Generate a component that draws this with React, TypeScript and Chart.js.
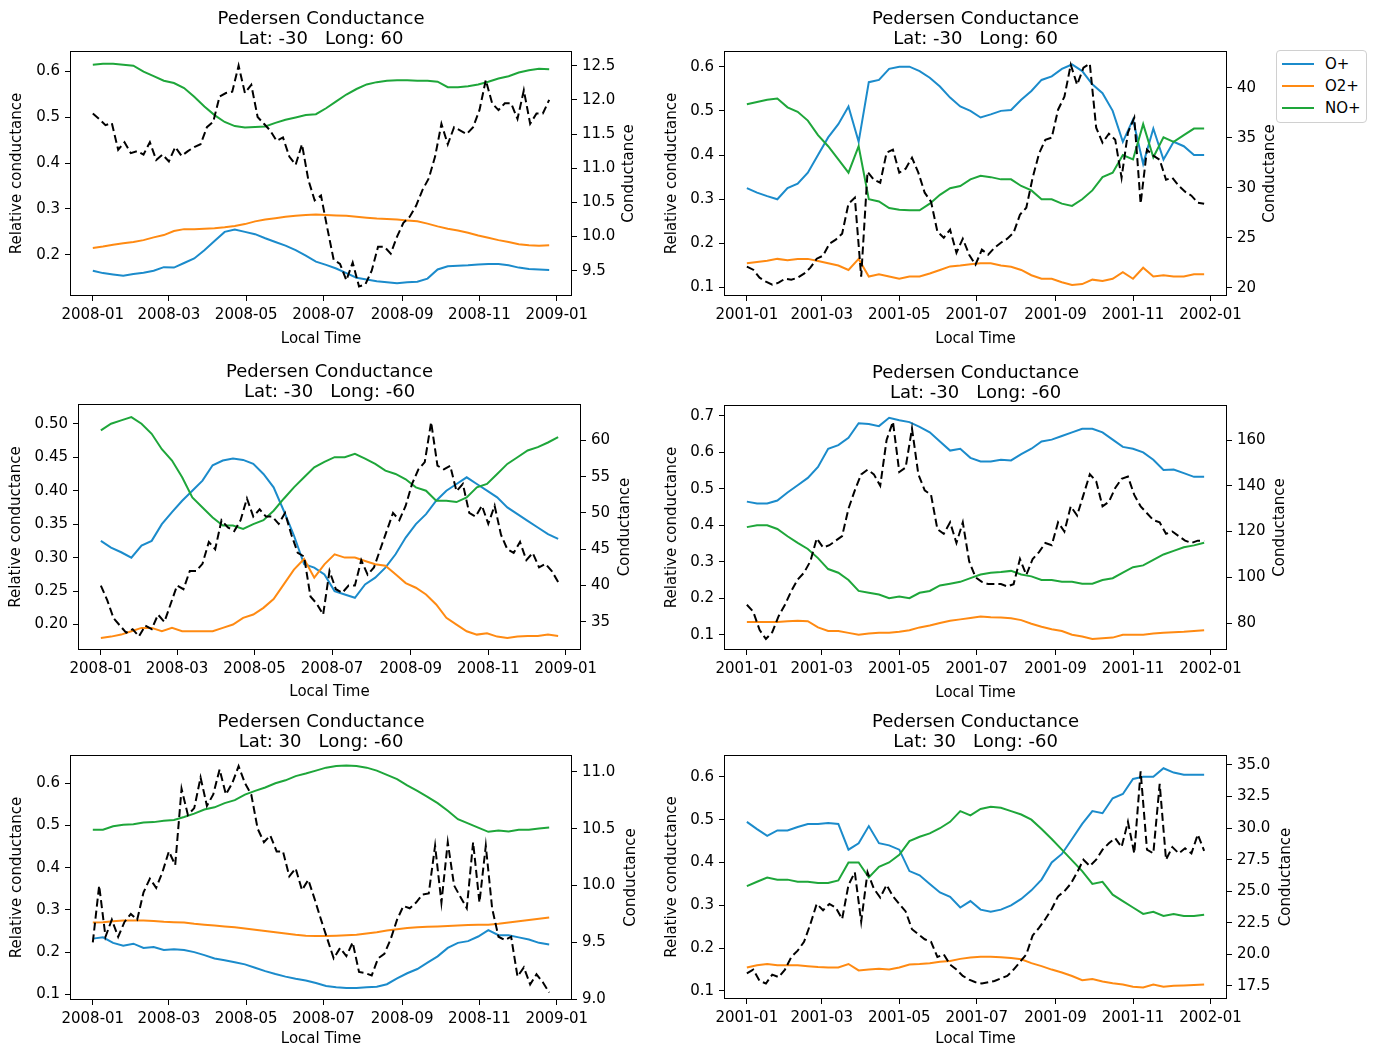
import React, { useEffect, useRef } from 'react';
import { Chart, registerables } from 'chart.js';

Chart.register(...registerables);

const FONT = "'DejaVu Sans', 'Liberation Sans', sans-serif";
const C_OP = '#1b8bcb';
const C_O2 = '#ff8a12';
const C_NO = '#1ea63a';

// Sample days (days since Jan 1 of the year shown)
const ionDays = [0, 8, 16, 24, 32, 40, 48, 56, 64, 72, 80, 88, 96, 104, 112, 120, 128, 136, 144, 152, 160, 168, 176, 184, 192, 200, 208, 216, 224, 232, 240, 248, 256, 264, 272, 280, 288, 296, 304, 312, 320, 328, 336, 344, 352, 360];
const condDays = [0, 5, 10, 15, 20, 25, 30, 35, 40, 45, 50, 55, 60, 65, 70, 75, 80, 85, 90, 95, 100, 105, 110, 115, 120, 125, 130, 135, 140, 145, 150, 155, 160, 165, 170, 175, 180, 185, 190, 195, 200, 205, 210, 215, 220, 225, 230, 235, 240, 245, 250, 255, 260, 265, 270, 275, 280, 285, 290, 295, 300, 305, 310, 315, 320, 325, 330, 335, 340, 345, 350, 355, 360];

// X tick positions / labels
const ticks2008 = [0, 60, 121, 182, 244, 305, 366];
const labels2008 = ['2008-01', '2008-03', '2008-05', '2008-07', '2008-09', '2008-11', '2009-01'];
const ticks2001 = [0, 59, 120, 181, 243, 304, 365];
const labels2001 = ['2001-01', '2001-03', '2001-05', '2001-07', '2001-09', '2001-11', '2002-01'];

// ---------- Panel 1: 2008, Lat -30, Long 60 ----------
const tlOPlus = [0.165, 0.160, 0.157, 0.154, 0.158, 0.161, 0.165, 0.173, 0.172, 0.182, 0.192, 0.21, 0.23, 0.25, 0.255, 0.25, 0.245, 0.236, 0.228, 0.22, 0.21, 0.198, 0.185, 0.178, 0.17, 0.16, 0.15, 0.146, 0.142, 0.14, 0.138, 0.14, 0.141, 0.148, 0.168, 0.175, 0.176, 0.177, 0.179, 0.18, 0.18, 0.177, 0.172, 0.169, 0.168, 0.167];
const tlO2Plus = [0.215, 0.218, 0.222, 0.225, 0.228, 0.232, 0.238, 0.243, 0.252, 0.256, 0.256, 0.257, 0.258, 0.26, 0.263, 0.267, 0.273, 0.277, 0.28, 0.283, 0.285, 0.287, 0.288, 0.287, 0.286, 0.285, 0.283, 0.281, 0.279, 0.278, 0.277, 0.275, 0.273, 0.268, 0.262, 0.257, 0.253, 0.248, 0.242, 0.237, 0.232, 0.228, 0.223, 0.221, 0.22, 0.221];
const tlNOPlus = [0.615, 0.617, 0.617, 0.615, 0.613, 0.60, 0.59, 0.58, 0.575, 0.564, 0.545, 0.524, 0.505, 0.49, 0.481, 0.478, 0.479, 0.48, 0.488, 0.495, 0.50, 0.505, 0.507, 0.52, 0.535, 0.55, 0.562, 0.572, 0.577, 0.58, 0.581, 0.581, 0.58, 0.58, 0.578, 0.566, 0.566, 0.568, 0.572, 0.578, 0.585, 0.59, 0.598, 0.603, 0.606, 0.605];
const tlSigma = [11.80, 11.72, 11.63, 11.66, 11.27, 11.38, 11.22, 11.25, 11.20, 11.38, 11.12, 11.20, 11.10, 11.31, 11.18, 11.25, 11.31, 11.35, 11.60, 11.68, 12.05, 12.10, 12.12, 12.50, 12.10, 12.22, 11.75, 11.65, 11.55, 11.40, 11.45, 11.17, 11.05, 11.35, 10.83, 10.53, 10.60, 10.12, 9.66, 9.60, 9.36, 9.62, 9.27, 9.30, 9.50, 9.85, 9.85, 9.75, 10.0, 10.2, 10.29, 10.45, 10.68, 10.85, 11.17, 11.65, 11.35, 11.60, 11.55, 11.50, 11.60, 11.85, 12.29, 11.95, 11.85, 11.95, 11.95, 11.72, 12.14, 11.65, 11.80, 11.80, 12.0];

// ---------- Panel 2: 2001, Lat -30, Long 60 ----------
const trOPlus = [0.325, 0.315, 0.307, 0.30, 0.325, 0.335, 0.36, 0.40, 0.44, 0.47, 0.51, 0.43, 0.565, 0.57, 0.595, 0.60, 0.60, 0.59, 0.575, 0.555, 0.53, 0.51, 0.50, 0.485, 0.492, 0.50, 0.502, 0.525, 0.545, 0.57, 0.578, 0.595, 0.605, 0.59, 0.56, 0.54, 0.50, 0.43, 0.48, 0.38, 0.46, 0.39, 0.43, 0.42, 0.40, 0.40];
const trO2Plus = [0.155, 0.158, 0.161, 0.165, 0.162, 0.165, 0.165, 0.16, 0.155, 0.15, 0.14, 0.165, 0.125, 0.13, 0.125, 0.12, 0.125, 0.125, 0.132, 0.14, 0.148, 0.15, 0.153, 0.155, 0.155, 0.15, 0.147, 0.14, 0.128, 0.12, 0.12, 0.112, 0.106, 0.108, 0.118, 0.115, 0.12, 0.135, 0.12, 0.145, 0.125, 0.128, 0.125, 0.125, 0.13, 0.13];
const trNOPlus = [0.515, 0.52, 0.525, 0.528, 0.508, 0.498, 0.478, 0.445, 0.42, 0.39, 0.36, 0.42, 0.30, 0.295, 0.28, 0.276, 0.275, 0.275, 0.29, 0.31, 0.325, 0.33, 0.345, 0.353, 0.35, 0.345, 0.345, 0.33, 0.32, 0.30, 0.30, 0.29, 0.285, 0.30, 0.32, 0.35, 0.36, 0.40, 0.39, 0.47, 0.395, 0.44, 0.43, 0.445, 0.46, 0.46];
const trSigma = [22.1, 21.8, 21.0, 20.6, 20.3, 20.5, 20.9, 20.8, 21.0, 21.4, 22.0, 22.9, 23.2, 24.4, 24.8, 25.4, 28.4, 29.0, 21.1, 31.6, 30.8, 30.5, 33.5, 33.8, 31.5, 31.9, 33.0, 31.5, 29.5, 28.6, 25.6, 25.0, 25.8, 23.5, 24.9, 23.3, 22.3, 23.8, 23.3, 24.0, 24.5, 24.9, 25.5, 27.3, 28.0, 31.0, 33.4, 34.8, 35.0, 37.8, 39.1, 42.3, 40.3, 42.0, 42.4, 36.0, 34.5, 35.4, 34.8, 31.0, 35.5, 37.0, 28.4, 33.8, 33.2, 32.8, 30.8, 31.0, 30.2, 29.6, 29.2, 28.5, 28.4];

// ---------- Panel 3: 2008, Lat -30, Long -60 ----------
const mlOPlus = [0.325, 0.315, 0.308, 0.30, 0.318, 0.325, 0.35, 0.368, 0.385, 0.40, 0.415, 0.438, 0.445, 0.448, 0.446, 0.44, 0.425, 0.405, 0.37, 0.333, 0.29, 0.285, 0.275, 0.25, 0.245, 0.24, 0.26, 0.27, 0.285, 0.305, 0.33, 0.35, 0.365, 0.385, 0.40, 0.41, 0.42, 0.41, 0.40, 0.39, 0.375, 0.365, 0.355, 0.345, 0.335, 0.328];
const mlO2Plus = [0.18, 0.182, 0.185, 0.19, 0.195, 0.195, 0.19, 0.195, 0.19, 0.19, 0.19, 0.19, 0.195, 0.20, 0.21, 0.215, 0.225, 0.238, 0.26, 0.282, 0.298, 0.27, 0.29, 0.305, 0.30, 0.30, 0.295, 0.29, 0.288, 0.275, 0.262, 0.255, 0.245, 0.23, 0.21, 0.20, 0.19, 0.185, 0.187, 0.182, 0.18, 0.182, 0.183, 0.183, 0.185, 0.183];
const mlNOPlus = [0.49, 0.50, 0.505, 0.51, 0.50, 0.485, 0.462, 0.445, 0.42, 0.39, 0.375, 0.36, 0.348, 0.348, 0.343, 0.35, 0.356, 0.37, 0.388, 0.405, 0.42, 0.435, 0.443, 0.45, 0.45, 0.455, 0.448, 0.44, 0.43, 0.425, 0.417, 0.405, 0.40, 0.385, 0.385, 0.383, 0.39, 0.405, 0.41, 0.425, 0.44, 0.45, 0.46, 0.465, 0.472, 0.48];
const mlSigma = [40, 38, 35.5, 34.5, 33.5, 34, 33, 34.5, 34, 36, 35, 37.5, 40, 39.5, 42, 42, 43, 46, 45, 49, 48, 47.5, 49, 52, 49.5, 50.5, 49.5, 49.5, 48.5, 50, 47, 44.5, 44, 38.5, 37.5, 36, 42, 39.5, 39, 40, 40, 43.5, 41.5, 42.5, 45, 47.5, 50, 49, 51, 54, 56, 57, 62.5, 56.5, 56, 56.5, 53, 54, 50, 49.5, 51, 48.5, 51, 47, 45, 44.5, 46, 43.5, 44.5, 42.5, 43, 42, 40.5];

// ---------- Panel 4: 2001, Lat -30, Long -60 ----------
const mrOPlus = [0.465, 0.46, 0.46, 0.468, 0.49, 0.51, 0.53, 0.56, 0.61, 0.62, 0.64, 0.68, 0.678, 0.672, 0.695, 0.688, 0.683, 0.67, 0.655, 0.63, 0.605, 0.61, 0.585, 0.575, 0.575, 0.58, 0.578, 0.595, 0.61, 0.63, 0.635, 0.645, 0.655, 0.665, 0.665, 0.655, 0.635, 0.615, 0.61, 0.60, 0.58, 0.552, 0.553, 0.543, 0.533, 0.533];
const mrO2Plus = [0.135, 0.135, 0.135, 0.135, 0.137, 0.138, 0.137, 0.12, 0.11, 0.11, 0.105, 0.10, 0.103, 0.105, 0.105, 0.108, 0.112, 0.12, 0.125, 0.132, 0.138, 0.142, 0.146, 0.15, 0.148, 0.147, 0.145, 0.14, 0.13, 0.122, 0.115, 0.11, 0.10, 0.095, 0.088, 0.09, 0.092, 0.10, 0.10, 0.10, 0.103, 0.105, 0.107, 0.108, 0.11, 0.112];
const mrNOPlus = [0.395, 0.40, 0.40, 0.39, 0.37, 0.352, 0.335, 0.31, 0.28, 0.27, 0.25, 0.22, 0.215, 0.21, 0.20, 0.205, 0.20, 0.215, 0.22, 0.235, 0.24, 0.245, 0.255, 0.265, 0.27, 0.272, 0.275, 0.265, 0.26, 0.25, 0.25, 0.245, 0.245, 0.24, 0.24, 0.25, 0.255, 0.27, 0.285, 0.29, 0.305, 0.32, 0.33, 0.34, 0.345, 0.352];
const mrSigma = [88, 85, 77, 73, 76, 83, 88, 94, 99, 102, 107, 117, 113, 114, 116, 118, 130, 138, 145, 147, 145, 140, 160, 168, 146, 148, 165, 145, 138, 136, 121, 119, 124, 115, 124, 107, 100, 98, 97, 97, 97, 96, 97, 108, 101, 108, 111, 115, 114, 124, 120, 131, 127, 136, 145, 142, 131, 133, 139, 143, 144, 136, 131, 128, 125, 124, 119, 120, 118, 116, 115, 116, 116];

// ---------- Panel 5: 2008, Lat 30, Long -60 ----------
const blOPlus = [0.232, 0.235, 0.222, 0.215, 0.22, 0.21, 0.212, 0.205, 0.207, 0.205, 0.20, 0.193, 0.185, 0.181, 0.176, 0.171, 0.163, 0.155, 0.148, 0.142, 0.137, 0.133, 0.127, 0.12, 0.117, 0.115, 0.115, 0.117, 0.118, 0.124, 0.138, 0.15, 0.16, 0.175, 0.19, 0.21, 0.222, 0.226, 0.237, 0.252, 0.24, 0.24, 0.235, 0.23, 0.222, 0.218];
const blO2Plus = [0.27, 0.271, 0.273, 0.275, 0.275, 0.275, 0.274, 0.272, 0.271, 0.27, 0.267, 0.265, 0.263, 0.261, 0.259, 0.256, 0.253, 0.25, 0.247, 0.244, 0.241, 0.239, 0.238, 0.238, 0.239, 0.24, 0.241, 0.244, 0.247, 0.251, 0.254, 0.257, 0.259, 0.26, 0.261, 0.262, 0.263, 0.264, 0.265, 0.265, 0.267, 0.27, 0.273, 0.276, 0.279, 0.282];
const blNOPlus = [0.49, 0.49, 0.498, 0.502, 0.503, 0.507, 0.508, 0.511, 0.513, 0.52, 0.528, 0.538, 0.543, 0.553, 0.56, 0.573, 0.582, 0.59, 0.60, 0.607, 0.617, 0.623, 0.63, 0.637, 0.641, 0.642, 0.641, 0.637, 0.63, 0.62, 0.61, 0.595, 0.582, 0.568, 0.553, 0.535, 0.515, 0.505, 0.495, 0.485, 0.488, 0.486, 0.49, 0.49, 0.493, 0.495];
const blSigma = [9.50, 10.0, 9.55, 9.70, 9.55, 9.68, 9.75, 9.70, 9.94, 10.06, 9.98, 10.12, 10.30, 10.18, 10.85, 10.62, 10.68, 10.95, 10.70, 10.80, 11.02, 10.80, 10.90, 11.05, 10.90, 10.80, 10.50, 10.38, 10.44, 10.30, 10.30, 10.08, 10.15, 9.96, 10.05, 9.88, 9.70, 9.53, 9.36, 9.45, 9.38, 9.50, 9.24, 9.23, 9.21, 9.36, 9.40, 9.53, 9.70, 9.82, 9.80, 9.85, 9.92, 9.93, 10.35, 9.85, 10.38, 10.0, 9.90, 9.80, 10.38, 9.85, 10.35, 9.80, 9.55, 9.52, 9.55, 9.20, 9.28, 9.13, 9.22, 9.15, 9.06];

// ---------- Panel 6: 2001, Lat 30, Long -60 ----------
const brOPlus = [0.495, 0.478, 0.462, 0.475, 0.475, 0.483, 0.49, 0.49, 0.492, 0.49, 0.43, 0.445, 0.485, 0.445, 0.44, 0.43, 0.38, 0.37, 0.35, 0.33, 0.32, 0.295, 0.31, 0.29, 0.285, 0.29, 0.30, 0.315, 0.335, 0.36, 0.40, 0.42, 0.455, 0.49, 0.52, 0.515, 0.55, 0.56, 0.595, 0.60, 0.60, 0.62, 0.61, 0.605, 0.605, 0.605];
const brO2Plus = [0.155, 0.16, 0.163, 0.16, 0.16, 0.16, 0.158, 0.156, 0.155, 0.155, 0.163, 0.148, 0.15, 0.152, 0.15, 0.155, 0.162, 0.163, 0.165, 0.168, 0.17, 0.175, 0.178, 0.18, 0.18, 0.179, 0.177, 0.174, 0.165, 0.158, 0.15, 0.143, 0.135, 0.125, 0.128, 0.122, 0.118, 0.115, 0.11, 0.108, 0.115, 0.11, 0.112, 0.113, 0.114, 0.115];
const brNOPlus = [0.345, 0.355, 0.365, 0.36, 0.36, 0.355, 0.355, 0.352, 0.352, 0.358, 0.40, 0.40, 0.365, 0.39, 0.40, 0.418, 0.45, 0.46, 0.468, 0.48, 0.495, 0.52, 0.51, 0.525, 0.53, 0.528, 0.52, 0.512, 0.50, 0.478, 0.455, 0.43, 0.405, 0.38, 0.35, 0.355, 0.325, 0.31, 0.295, 0.28, 0.285, 0.275, 0.28, 0.275, 0.275, 0.278];
const brSigma = [18.5, 18.8, 17.9, 17.7, 18.4, 18.2, 18.8, 19.8, 20.3, 21.0, 22.4, 24.0, 23.5, 24.0, 23.7, 22.8, 25.5, 26.5, 22.6, 26.5, 25.2, 24.5, 25.5, 24.6, 24.0, 23.4, 22.0, 21.6, 21.2, 21.0, 19.8, 20.0, 19.2, 18.8, 18.3, 18.0, 17.8, 17.7, 17.8, 17.9, 18.1, 18.3, 18.8, 19.4, 20.0, 21.5, 22.1, 22.8, 23.6, 24.6, 25.0, 25.6, 26.5, 27.5, 27.0, 27.5, 28.3, 28.8, 29.2, 28.5, 30.5, 28.0, 34.5, 28.3, 28.0, 33.5, 27.5, 28.5, 28.0, 28.4, 28.0, 29.5, 28.2];

// Axis ticks
const relTicks1 = [0.2, 0.3, 0.4, 0.5, 0.6];
const relTicks2 = [0.1, 0.2, 0.3, 0.4, 0.5, 0.6];
const relTicks3 = [0.2, 0.25, 0.3, 0.35, 0.4, 0.45, 0.5];
const relTicks4 = [0.1, 0.2, 0.3, 0.4, 0.5, 0.6, 0.7];
const condTicks1 = [9.5, 10.0, 10.5, 11.0, 11.5, 12.0, 12.5];
const condTicks2 = [20, 25, 30, 35, 40];
const condTicks3 = [35, 40, 45, 50, 55, 60];
const condTicks4 = [80, 100, 120, 140, 160];
const condTicks5 = [9.0, 9.5, 10.0, 10.5, 11.0];
const condTicks6 = [17.5, 20.0, 22.5, 25.0, 27.5, 30.0, 32.5, 35.0];

const legendLabels = ['O+', 'O2+', 'NO+'];
const legendColors = [C_OP, C_O2, C_NO];

const panels = [
  {
    key: 'tl', x: 0, y: 0, w: 660, h: 350, tTop: 9, tBot: 2, yW: 70, y2W: 88, xH: 54,
    yTitlePad: 8, y2TitlePad: 22, xTitlePad: 2, sub: 'Lat: -30   Long: 60',
    xTicks: ticks2008, xLabels: labels2008,
    yMin: 0.11, yMax: 0.645, yTicks: relTicks1, yDec: 1,
    y2Min: 9.13, y2Max: 12.715, y2Ticks: condTicks1, y2Dec: 1,
    op: tlOPlus, o2: tlO2Plus, no: tlNOPlus, cond: tlSigma,
  },
  {
    key: 'tr', x: 660, y: 0, w: 640, h: 350, tTop: 9, tBot: 2, yW: 64, y2W: 73, xH: 54,
    yTitlePad: 3, y2TitlePad: 21, xTitlePad: 2, sub: 'Lat: -30   Long: 60',
    xTicks: ticks2001, xLabels: labels2001,
    yMin: 0.081, yMax: 0.6355, yTicks: relTicks2, yDec: 1,
    y2Min: 19.17, y2Max: 43.67, y2Ticks: condTicks2, y2Dec: 0,
    op: trOPlus, o2: trO2Plus, no: trNOPlus, cond: trSigma,
  },
  {
    key: 'ml', x: 0, y: 350, w: 660, h: 355, tTop: 12, tBot: 2, yW: 78, y2W: 79, xH: 55,
    yTitlePad: 7, y2TitlePad: 26, xTitlePad: 4, sub: 'Lat: -30   Long: -60',
    xTicks: ticks2008, xLabels: labels2008,
    yMin: 0.162, yMax: 0.5295, yTicks: relTicks3, yDec: 2,
    y2Min: 31.13, y2Max: 65.0, y2Ticks: condTicks3, y2Dec: 0,
    op: mlOPlus, o2: mlO2Plus, no: mlNOPlus, cond: mlSigma,
  },
  {
    key: 'mr', x: 660, y: 350, w: 640, h: 355, tTop: 13, tBot: 2, yW: 64, y2W: 73, xH: 55,
    yTitlePad: 3, y2TitlePad: 11, xTitlePad: 3, sub: 'Lat: -30   Long: -60',
    xTicks: ticks2001, xLabels: labels2001,
    yMin: 0.058, yMax: 0.73, yTicks: relTicks4, yDec: 1,
    y2Min: 68.2, y2Max: 175.3, y2Ticks: condTicks4, y2Dec: 0,
    op: mrOPlus, o2: mrO2Plus, no: mrNOPlus, cond: mrSigma,
  },
  {
    key: 'bl', x: 0, y: 705, w: 660, h: 343, tTop: 7, tBot: 3, yW: 70, y2W: 88, xH: 48,
    yTitlePad: 8, y2TitlePad: 20, xTitlePad: 0, sub: 'Lat: 30   Long: -60',
    xTicks: ticks2008, xLabels: labels2008,
    yMin: 0.0866, yMax: 0.667, yTicks: relTicks2, yDec: 1,
    y2Min: 8.994, y2Max: 11.147, y2Ticks: condTicks5, y2Dec: 1,
    op: blOPlus, o2: blO2Plus, no: blNOPlus, cond: blSigma,
  },
  {
    key: 'br', x: 660, y: 705, w: 640, h: 343, tTop: 7, tBot: 3, yW: 64, y2W: 73, xH: 49,
    yTitlePad: 3, y2TitlePad: 5, xTitlePad: 0, sub: 'Lat: 30   Long: -60',
    xTicks: ticks2001, xLabels: labels2001,
    yMin: 0.0813, yMax: 0.651, yTicks: relTicks2, yDec: 1,
    y2Min: 16.47, y2Max: 35.79, y2Ticks: condTicks6, y2Dec: 1,
    op: brOPlus, o2: brO2Plus, no: brNOPlus, cond: brSigma,
  },
];

const tickFont = { family: FONT, size: 15, lineHeight: 1.2 };
const gridOpts = { display: true, drawOnChartArea: false, drawTicks: true, tickLength: 5, color: '#000', lineWidth: 1 };

function makeFramePlugin(p: any) {
  return {
    id: 'axesFrame',
    afterDraw(chart: any) {
      const { ctx, chartArea } = chart;
      ctx.save();
      ctx.strokeStyle = '#000';
      ctx.lineWidth = 1;
      ctx.strokeRect(
        Math.round(chartArea.left) + 0.5,
        Math.round(chartArea.top) + 0.5,
        Math.round(chartArea.right - chartArea.left) - 1,
        Math.round(chartArea.bottom - chartArea.top) - 1
      );
      // right-axis label, rotated like the left one (reads bottom to top)
      const cx = chartArea.right + p.y2W - p.y2TitlePad - 9;
      const cy = (chartArea.top + chartArea.bottom) / 2;
      ctx.translate(cx, cy);
      ctx.rotate(-Math.PI / 2);
      ctx.fillStyle = '#000';
      ctx.font = `15px ${FONT}`;
      ctx.textAlign = 'center';
      ctx.textBaseline = 'middle';
      ctx.fillText('Conductance', 0, 0);
      ctx.restore();
    },
  };
}

function toPoints(days: number[], vals: number[]) {
  return vals.map((v, i) => ({ x: days[i], y: v }));
}

function PanelChart({ p }: { p: any }) {
  const ref = useRef<HTMLCanvasElement | null>(null);
  useEffect(() => {
    if (!ref.current) return;
    const lineBase = { pointRadius: 0, pointHoverRadius: 0, borderWidth: 2, tension: 0, fill: false };
    const chart = new Chart(ref.current, {
      type: 'line',
      data: {
        datasets: [
          { ...lineBase, label: 'Conductance', data: toPoints(condDays, p.cond), yAxisID: 'y2', borderColor: '#000', borderDash: [8, 4] },
          { ...lineBase, label: 'NO+', data: toPoints(ionDays, p.no), yAxisID: 'y', borderColor: C_NO },
          { ...lineBase, label: 'O2+', data: toPoints(ionDays, p.o2), yAxisID: 'y', borderColor: C_O2 },
          { ...lineBase, label: 'O+', data: toPoints(ionDays, p.op), yAxisID: 'y', borderColor: C_OP },
        ],
      },
      options: {
        animation: false,
        responsive: false,
        devicePixelRatio: 1,
        parsing: false,
        normalized: true,
        events: [],
        layout: { padding: 0 },
        plugins: {
          legend: { display: false },
          tooltip: { enabled: false },
          title: {
            display: true,
            text: ['Pedersen Conductance', p.sub],
            color: '#000',
            fullSize: false,
            font: { family: FONT, size: 18, weight: 'normal', lineHeight: 20 / 18 },
            padding: { top: p.tTop, bottom: p.tBot },
          },
        },
        scales: {
          x: {
            type: 'linear',
            position: 'bottom',
            min: -18,
            max: 378,
            afterBuildTicks: (s: any) => { s.ticks = p.xTicks.map((v: number) => ({ value: v })); },
            afterFit: (s: any) => { s.height = p.xH; },
            ticks: {
              autoSkip: false, maxRotation: 0, minRotation: 0, padding: 5, color: '#000', font: tickFont,
              callback: (_v: any, i: number) => p.xLabels[i],
            },
            grid: gridOpts,
            border: { display: false },
            title: { display: true, text: 'Local Time', color: '#000', font: tickFont, padding: { top: 0, bottom: p.xTitlePad } },
          },
          y: {
            type: 'linear',
            position: 'left',
            min: p.yMin,
            max: p.yMax,
            afterBuildTicks: (s: any) => { s.ticks = p.yTicks.map((v: number) => ({ value: v })); },
            afterFit: (s: any) => { s.width = p.yW; },
            ticks: {
              autoSkip: false, padding: 5, color: '#000', font: tickFont,
              callback: (v: any) => Number(v).toFixed(p.yDec),
            },
            grid: gridOpts,
            border: { display: false },
            title: { display: true, text: 'Relative conductance', color: '#000', font: tickFont, padding: { top: p.yTitlePad, bottom: 0 } },
          },
          y2: {
            type: 'linear',
            position: 'right',
            min: p.y2Min,
            max: p.y2Max,
            afterBuildTicks: (s: any) => { s.ticks = p.y2Ticks.map((v: number) => ({ value: v })); },
            afterFit: (s: any) => { s.width = p.y2W; },
            ticks: {
              autoSkip: false, padding: 5, color: '#000', font: tickFont,
              callback: (v: any) => Number(v).toFixed(p.y2Dec),
            },
            grid: gridOpts,
            border: { display: false },
            title: { display: false, text: 'Conductance' },
          },
        },
      } as any,
      plugins: [makeFramePlugin(p)],
    } as any);
    return () => chart.destroy();
  }, [p]);
  return (
    <canvas
      ref={ref}
      width={p.w}
      height={p.h}
      style={{ position: 'absolute', left: p.x, top: p.y, width: p.w, height: p.h, display: 'block' }}
    />
  );
}

function Legend() {
  return (
    <div
      style={{
        position: 'absolute', left: 1276, top: 50, width: 91, height: 73, boxSizing: 'border-box',
        border: '1px solid #d0d0d0', borderRadius: 4, background: '#fff', fontFamily: FONT, fontSize: 15, color: '#000',
      }}
    >
      {legendLabels.map((lab, i) => (
        <React.Fragment key={lab}>
          <div style={{ position: 'absolute', left: 5, top: 13 + 22 * i - 1, width: 32, height: 2, background: legendColors[i] }} />
          <div style={{ position: 'absolute', left: 48, top: 13 + 22 * i - 9, lineHeight: '18px', whiteSpace: 'nowrap' }}>{lab}</div>
        </React.Fragment>
      ))}
    </div>
  );
}

export default function App() {
  return (
    <div style={{ position: 'absolute', left: 0, top: 0, width: 1374, height: 1048, background: '#fff', overflow: 'hidden' }}>
      {panels.map((p) => (
        <PanelChart key={p.key} p={p} />
      ))}
      <Legend />
    </div>
  );
}
